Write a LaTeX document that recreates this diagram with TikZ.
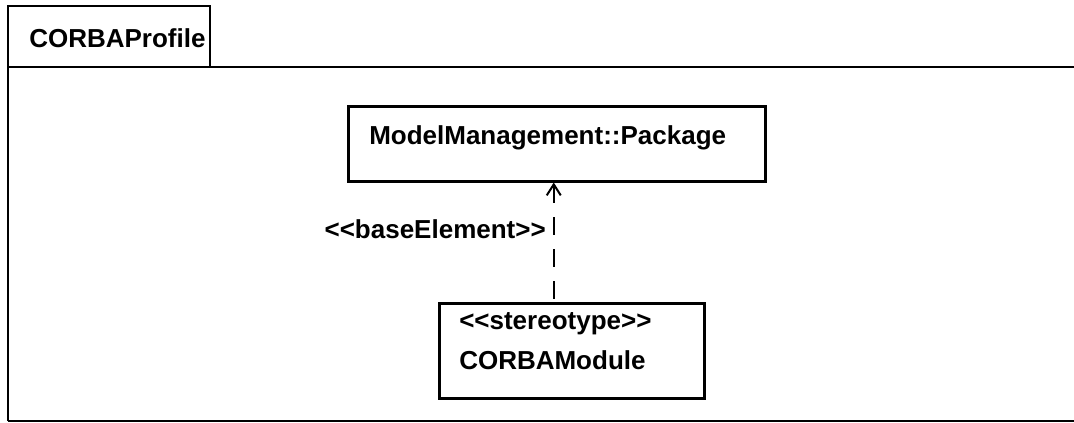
\documentclass[tikz,border=0pt]{standalone}
\usepackage{fontspec}
\setmainfont{Liberation Sans}
\usetikzlibrary{arrows.meta}

\begin{document}
\begin{tikzpicture}[x=1pt, y=-1pt, line width=2.5pt,
  every node/.style={font=\bfseries\fontsize{26}{40}\selectfont},
  class/.style={draw, rectangle, align=left, inner ysep=0pt},
  dep/.style={<-, >={Straight Barb[length=11pt,width=14pt]}, line width=2pt, dash pattern=on 18pt off 14pt}]

  \useasboundingbox (0,0) rectangle (1074,423);
  % package frame with tab
  \draw (8,421) -- (8,6) -- (210,6) -- (210,67);
  \draw (8,67) -- (1090,67);
  \draw (8,421) -- (1090,421);
  \node[anchor=base west, inner sep=0pt] (prof) at (28,47) {CORBAProfile};

  \node[class, anchor=north west, text width=375pt, inner xsep=21pt, text height=38pt, text depth=37pt] (pkg) at (347,105) {ModelManagement::Package};
  \node[class, anchor=north west, text width=225pt, inner xsep=20pt, text height=26pt, text depth=69pt] (mod) at (438,302) {<{}<stereotype>{}>\\CORBAModule};

  \draw[dep] ([xshift=-18pt]mod.north |- pkg.south) -- node[pos=.47, anchor=base east, inner sep=0pt, xshift=-7pt]{<{}<baseElement>{}>} ([xshift=-18pt]mod.north);
\end{tikzpicture}
\end{document}
